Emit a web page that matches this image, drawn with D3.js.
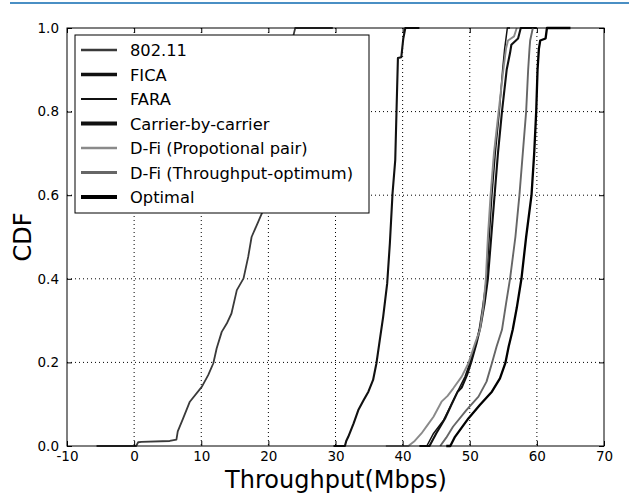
<!DOCTYPE html>
<html>
<head>
  <meta charset="utf-8">
  <title>cdf</title>
  <style>
    body { margin: 0; background: #fff; }
    text { font-family: "DejaVu Sans", sans-serif; }
  </style>
</head>
<body>
<script src="https://cdnjs.cloudflare.com/ajax/libs/d3/7.8.5/d3.min.js"></script>
<script>
// throughput (Mbps) vs CDF
const s80211 = [[-5.6,0],[0.3,0],[0.6,0.009],[1.1,0.01],[5.3,0.012],[6.3,0.015],[6.5,0.035],[7.3,0.066],[8.3,0.106],[10.1,0.142],[11.05,0.17],[11.8,0.198],[12.3,0.234],[13.05,0.273],[13.8,0.293],[14.5,0.317],[15.3,0.373],[16.3,0.401],[17.0,0.453],[17.5,0.5],[18.5,0.537],[19.25,0.565],[20.2,0.63],[21.0,0.71],[22.0,0.81],[22.8,0.89],[23.4,0.95],[23.7,0.98],[24.0,1.0],[29.6,1.0]];
const fica = [[29.7,0],[31.4,0],[31.6,0.012],[31.9,0.022],[32.7,0.054],[33.4,0.086],[34.2,0.11],[34.9,0.13],[35.6,0.158],[36.1,0.198],[36.6,0.254],[37.1,0.309],[37.7,0.389],[38.1,0.485],[38.5,0.605],[38.9,0.684],[39.1,0.808],[39.3,0.928],[39.8,0.93],[40.1,0.975],[40.4,1.0],[42.5,1.0]];
const fara = [[43.0,0],[43.6,0],[44.6,0.03],[46.1,0.062],[47.1,0.094],[48.3,0.134],[49.3,0.166],[50.0,0.198],[50.8,0.238],[51.4,0.278],[51.9,0.33],[52.5,0.4],[52.9,0.5],[53.3,0.6],[53.8,0.7],[54.4,0.8],[54.9,0.9],[55.2,0.95],[55.6,1.0],[56.0,1.0]];
const carrier = [[42.5,0],[44.0,0],[45.0,0.03],[46.3,0.065],[47.3,0.1],[48.2,0.13],[48.8,0.14],[49.6,0.17],[50.3,0.205],[51.0,0.245],[51.6,0.285],[52.2,0.34],[52.7,0.4],[53.2,0.5],[53.7,0.6],[54.2,0.7],[54.8,0.8],[55.5,0.9],[56.0,0.94],[56.2,0.96],[57.2,0.975],[57.6,1.0],[60.0,1.0]];
const dfiProp = [[37.5,0],[40.85,0],[41.8,0.012],[42.8,0.03],[43.7,0.05],[44.6,0.07],[45.8,0.106],[46.7,0.12],[47.55,0.138],[48.8,0.166],[49.8,0.198],[50.8,0.246],[51.5,0.277],[52.0,0.33],[52.4,0.4],[52.7,0.5],[53.1,0.6],[53.6,0.7],[54.3,0.8],[55.0,0.9],[55.4,0.95],[55.7,0.97],[56.6,0.98],[57.0,1.0]];
const dfiThr = [[45.6,0],[46.5,0.02],[47.5,0.046],[49.5,0.086],[51.3,0.118],[52.5,0.154],[53.3,0.198],[54.0,0.238],[54.8,0.278],[55.4,0.34],[56.0,0.4],[56.8,0.5],[57.4,0.6],[57.9,0.7],[58.4,0.8],[58.7,0.9],[58.9,0.95],[59.0,0.97],[59.4,1.0]];
const optimal = [[46.5,0],[47.1,0],[47.8,0.022],[49.8,0.066],[51.5,0.098],[53.3,0.13],[54.5,0.162],[55.3,0.198],[55.8,0.238],[56.4,0.278],[57.0,0.33],[57.7,0.4],[58.4,0.5],[59.2,0.6],[59.6,0.7],[59.9,0.8],[60.1,0.9],[60.3,0.95],[60.5,0.97],[61.3,0.975],[61.5,1.0],[65.0,1.0]];

const names = ["802.11","FICA","FARA","Carrier-by-carrier","D-Fi (Propotional pair)","D-Fi (Throughput-optimum)","Optimal"];
const seriesData = [s80211, fica, fara, carrier, dfiProp, dfiThr, optimal];
const xTicks = [-10,0,10,20,30,40,50,60,70];
const yTicks = [0,0.2,0.4,0.6,0.8,1.0];

// line looks
const colors = ["#3a3a3a","#111","#111","#111","#8a8a8a","#666","#000"];
const plotWidths = [1.8,2.1,1.5,2.1,1.9,1.9,2.3];
const legendWidths = [2.5,3.5,2,4,2.5,3,4];

const W = 629, H = 494;
const svg = d3.select("body").append("svg")
  .attr("width", W).attr("height", H);

// blue rule at the top
svg.append("line")
  .attr("x1", 10).attr("x2", W).attr("y1", 3).attr("y2", 3)
  .attr("stroke", "#4a8fc4").attr("stroke-width", 2);

const pl = 67, pr = 604, pt = 28, pb = 446;
const x = d3.scaleLinear().domain([-10,70]).range([pl,pr]);
const y = d3.scaleLinear().domain([0,1]).range([pb,pt]);

// dotted grid
const grid = svg.append("g")
  .attr("stroke", "#000").attr("stroke-width", 1).attr("stroke-dasharray", "1,3");
grid.selectAll(".gx").data(xTicks.slice(1,-1)).enter().append("line")
  .attr("x1", d => x(d)).attr("x2", d => x(d)).attr("y1", pt).attr("y2", pb);
grid.selectAll(".gy").data(yTicks.slice(1,-1)).enter().append("line")
  .attr("x1", pl).attr("x2", pr).attr("y1", d => y(d)).attr("y2", d => y(d));

// curves
const line = d3.line().x(d => x(d[0])).y(d => y(d[1]));
svg.append("g").selectAll("path").data(seriesData).enter().append("path")
  .attr("d", line)
  .attr("fill", "none")
  .attr("stroke", (d,i) => colors[i])
  .attr("stroke-width", (d,i) => plotWidths[i])
  .attr("stroke-linejoin", "round");

// axes with inside ticks
const xAxis = svg.append("g").attr("transform", `translate(0,${pb})`)
  .call(d3.axisBottom(x).tickValues(xTicks).tickSize(-5).tickPadding(5).tickFormat(d => String(d)));
const xAxisTop = svg.append("g").attr("transform", `translate(0,${pt})`)
  .call(d3.axisTop(x).tickValues(xTicks).tickSize(-5).tickFormat(""));
const yAxis = svg.append("g").attr("transform", `translate(${pl},0)`)
  .call(d3.axisLeft(y).tickValues(yTicks).tickSize(-5).tickPadding(8).tickFormat(d3.format(".1f")));
const yAxisR = svg.append("g").attr("transform", `translate(${pr},0)`)
  .call(d3.axisRight(y).tickValues(yTicks).tickSize(-5).tickFormat(""));
[xAxis, xAxisTop, yAxis, yAxisR].forEach(g => {
  g.select(".domain").remove();
  g.selectAll("text").attr("font-size", 13.5).attr("fill", "#000")
    .attr("font-family", "DejaVu Sans");
});

svg.append("rect")
  .attr("x", pl).attr("y", pt).attr("width", pr-pl).attr("height", pb-pt)
  .attr("fill", "none").attr("stroke", "#000").attr("stroke-width", 1);

// axis titles
svg.append("text").attr("x", 336).attr("y", 488)
  .attr("text-anchor", "middle").attr("font-size", 24).text("Throughput(Mbps)");
svg.append("text").attr("transform", "translate(31,237) rotate(-90)")
  .attr("text-anchor", "middle").attr("font-size", 24).text("CDF");

// legend
const lg = svg.append("g");
lg.append("rect").attr("x", 75).attr("y", 35).attr("width", 294).attr("height", 178)
  .attr("fill", "#fff").attr("stroke", "#000").attr("stroke-width", 1);
const rows = lg.selectAll(".row").data(names).enter().append("g")
  .attr("transform", (d,i) => `translate(0,${50 + i*24.5})`);
rows.append("line").attr("x1", 81).attr("x2", 117).attr("y1", 0).attr("y2", 0)
  .attr("stroke", (d,i) => colors[i]).attr("stroke-width", (d,i) => legendWidths[i]);
rows.append("text").attr("x", 130).attr("y", 6).attr("font-size", 16.3).text(d => d);
</script>
</body>
</html>
